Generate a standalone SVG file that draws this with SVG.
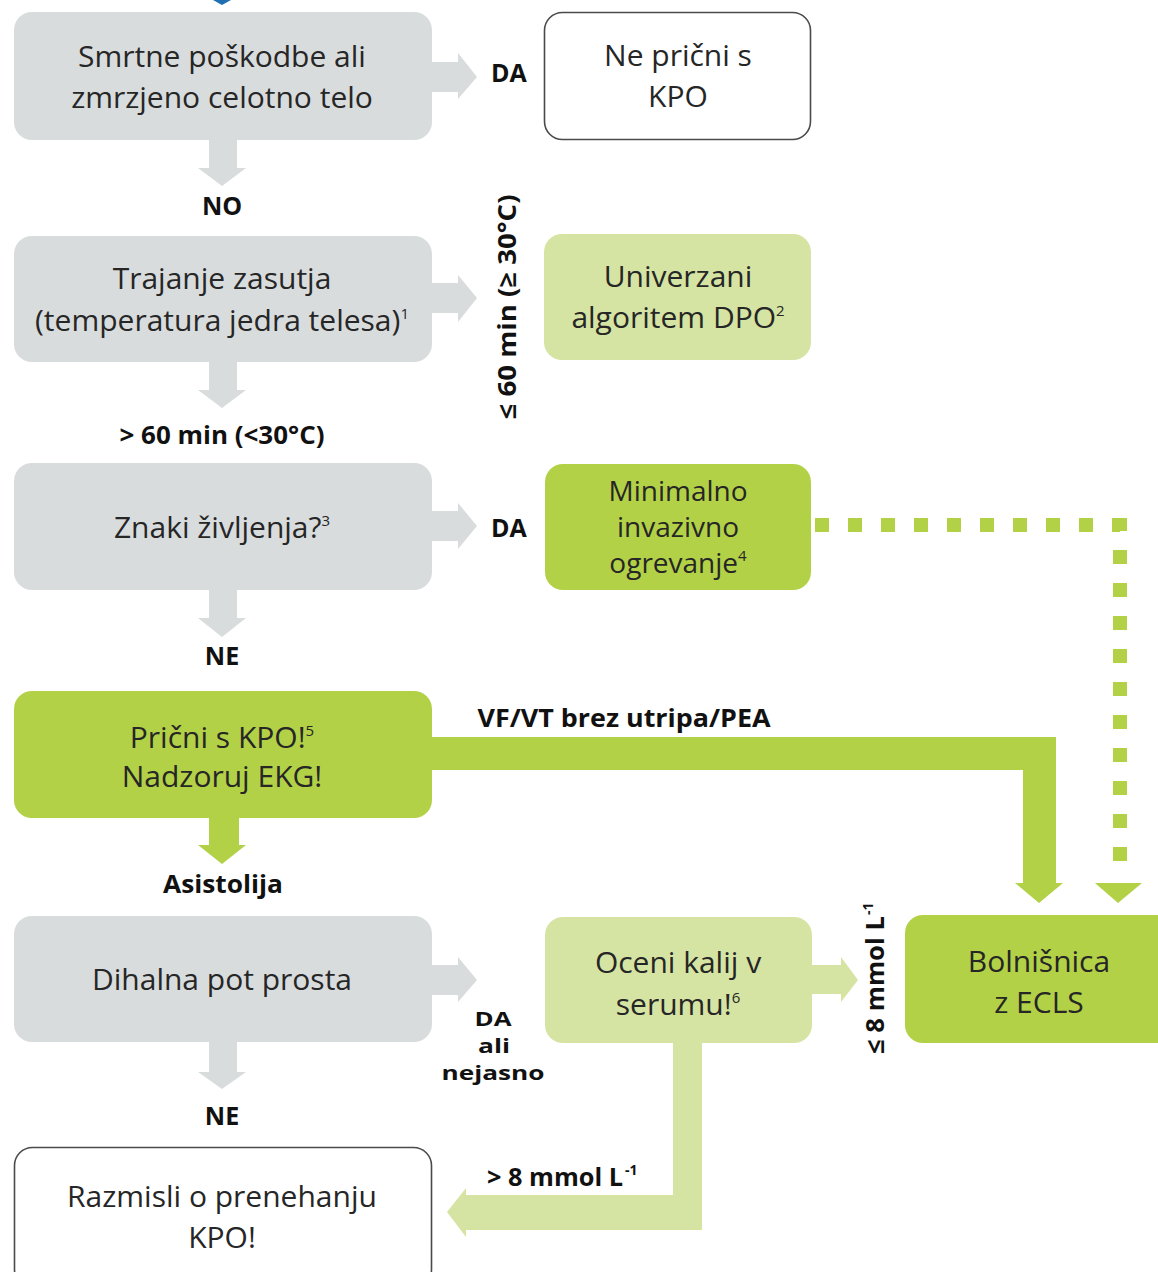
<svg xmlns="http://www.w3.org/2000/svg" width="1158" height="1272" viewBox="0 0 1158 1272">
<style>
.gray{fill:#d9dcdd}
.dg{fill:#b3d147}
.lg{fill:#d6e4a3}
.wb{fill:#ffffff;stroke:#4a4a4a;stroke-width:1.6}
.t{font-family:"Open Sans","Noto Sans","DejaVu Sans",sans-serif;font-size:30px;fill:#262626;text-anchor:middle}
.lb{font-family:"Open Sans","Noto Sans","DejaVu Sans",sans-serif;font-size:25px;font-weight:bold;fill:#111;text-anchor:middle}
.sm{font-size:20px}
.sup{font-size:15px}
.dots{fill:none;stroke:#b3d147;stroke-width:14;stroke-dasharray:14 19}
</style>
<rect width="1158" height="1272" fill="#ffffff"/>
<polygon points="213,0 231,0 222,5" fill="#1f6fb2"/>

<g id="connectors">
  <polygon class="gray" points="430,62 458,62 458,53 477,77 458,99 458,92 430,92"/>
  <polygon class="gray" points="209,138 237,138 237,168 246,168 222,186 198,168 209,168"/>
  <polygon class="gray" points="430,283 458,283 458,275 477,298 458,322 458,313 430,313"/>
  <polygon class="gray" points="209,360 237,360 237,390 246,390 222,408 198,390 209,390"/>
  <polygon class="gray" points="430,511 458,511 458,503 477,526 458,549 458,541 430,541"/>
  <polygon class="gray" points="209,588 237,588 237,618 246,618 222,637 198,618 209,618"/>
  <polygon class="dg" points="209,816 239,816 239,845 246,845 222,864 198,845 209,845"/>
  <polygon class="dg" points="430,737 1056,737 1056,883 1063,883 1039,903 1015,883 1023,883 1023,770 430,770"/>
  <path class="dots" d="M815,525 H1120 V872"/>
  <polygon class="dg" points="1095,883 1142,883 1118,903"/>
  <polygon class="gray" points="430,965 458,965 458,957 477,980 458,1002 458,995 430,995"/>
  <polygon class="gray" points="209,1040 237,1040 237,1072 246,1072 222,1089 198,1072 209,1072"/>
  <polygon class="lg" points="810,965 841,965 841,957 858,980 841,1002 841,994 810,994"/>
  <polygon class="lg" points="673,1041 702,1041 702,1230 466,1230 466,1237 447,1212 466,1188 466,1195 673,1195"/>
</g>

<g id="labels">
  <text class="lb" x="509" y="82">DA</text>
  <text class="lb" x="222" y="215">NO</text>
  <text class="lb" transform="translate(516,307) rotate(-90)" textLength="225" lengthAdjust="spacingAndGlyphs">≤ 60 min (≥ 30°C)</text>
  <text class="lb" x="222" y="444" textLength="205" lengthAdjust="spacingAndGlyphs">&gt; 60 min (&lt;30°C)</text>
  <text class="lb" x="509" y="537">DA</text>
  <text class="lb" x="222" y="665">NE</text>
  <text class="lb" x="624" y="727" textLength="293" lengthAdjust="spacingAndGlyphs">VF/VT brez utripa/PEA</text>
  <text class="lb" x="223" y="893" textLength="120" lengthAdjust="spacingAndGlyphs">Asistolija</text>
  <text class="lb sm" x="493" y="1026" textLength="37" lengthAdjust="spacingAndGlyphs">DA</text>
  <text class="lb sm" x="494" y="1053" textLength="32" lengthAdjust="spacingAndGlyphs">ali</text>
  <text class="lb sm" x="493" y="1080" textLength="103" lengthAdjust="spacingAndGlyphs">nejasno</text>
  <text class="lb" x="222" y="1125">NE</text>
  <text class="lb" x="555" y="1186" textLength="136" lengthAdjust="spacingAndGlyphs">&gt; 8 mmol L</text>
  <text class="lb" x="625" y="1175" style="font-size:14px;text-anchor:start">-1</text>
  <g transform="translate(884,975) rotate(-90)">
    <text class="lb" x="-10" y="0" textLength="138" lengthAdjust="spacingAndGlyphs">≤ 8 mmol L</text>
    <text class="lb" x="60" y="-11" style="font-size:14px;text-anchor:start">-1</text>
  </g>
</g>

<g id="n1">
  <rect class="gray" x="14" y="12" width="418" height="128" rx="18"/>
  <text class="t" x="222" y="67">Smrtne poškodbe ali</text>
  <text class="t" x="222" y="108">zmrzjeno celotno telo</text>
</g>
<g id="n1b">
  <rect class="wb" x="544.5" y="12.5" width="266" height="127" rx="18"/>
  <text class="t" x="678" y="66">Ne prični s</text>
  <text class="t" x="678" y="107">KPO</text>
</g>
<g id="n2">
  <rect class="gray" x="14" y="236" width="418" height="126" rx="18"/>
  <text class="t" x="222" y="289">Trajanje zasutja</text>
  <text class="t" x="222" y="331">(temperatura jedra telesa)<tspan class="sup" dy="-12">1</tspan></text>
</g>
<g id="n2b">
  <rect class="lg" x="544" y="234" width="267" height="126" rx="18"/>
  <text class="t" x="678" y="287">Univerzani</text>
  <text class="t" x="678" y="328">algoritem DPO<tspan class="sup" dy="-12">2</tspan></text>
</g>
<g id="n3">
  <rect class="gray" x="14" y="463" width="418" height="127" rx="18"/>
  <text class="t" x="222" y="538">Znaki življenja?<tspan class="sup" dy="-12">3</tspan></text>
</g>
<g id="n3b">
  <rect class="dg" x="545" y="464" width="266" height="126" rx="18"/>
  <text class="t" x="678" y="501" style="font-size:28px">Minimalno</text>
  <text class="t" x="678" y="537" style="font-size:28px">invazivno</text>
  <text class="t" x="678" y="573" style="font-size:28px">ogrevanje<tspan class="sup" dy="-12">4</tspan></text>
</g>
<g id="n4">
  <rect class="dg" x="14" y="691" width="418" height="127" rx="18"/>
  <text class="t" x="222" y="748">Prični s KPO!<tspan class="sup" dy="-12">5</tspan></text>
  <text class="t" x="222" y="787">Nadzoruj EKG!</text>
</g>
<g id="n5">
  <rect class="gray" x="14" y="916" width="418" height="126" rx="18"/>
  <text class="t" x="222" y="990">Dihalna pot prosta</text>
</g>
<g id="n5b">
  <rect class="lg" x="545" y="917" width="267" height="126" rx="18"/>
  <text class="t" x="678" y="973">Oceni kalij v</text>
  <text class="t" x="678" y="1015">serumu!<tspan class="sup" dy="-12">6</tspan></text>
</g>
<g id="n6">
  <rect class="dg" x="905" y="915" width="290" height="128" rx="18"/>
  <text class="t" x="1039" y="972">Bolnišnica</text>
  <text class="t" x="1039" y="1013">z ECLS</text>
</g>
<g id="n7">
  <rect class="wb" x="14.5" y="1147.5" width="417" height="140" rx="18"/>
  <text class="t" x="222" y="1207">Razmisli o prenehanju</text>
  <text class="t" x="222" y="1248">KPO!</text>
</g>
</svg>
